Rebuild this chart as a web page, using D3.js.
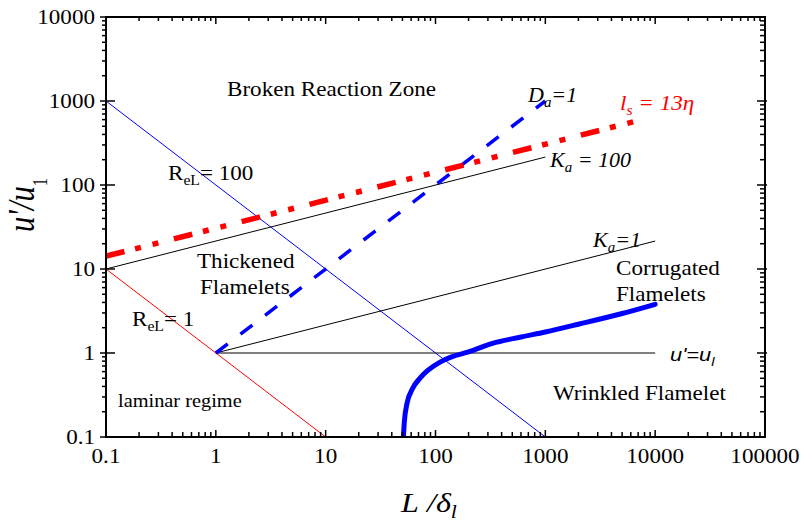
<!DOCTYPE html>
<html>
<head>
<meta charset="utf-8">
<script src="https://cdn.jsdelivr.net/npm/d3@7"></script>
<style>
  html, body { margin: 0; padding: 0; background: #fff; }
  svg { display: block; }
  .serif { font-family: "Liberation Serif", "Times New Roman", serif; }
</style>
</head>
<body>
<svg id="chart" width="804" height="522"></svg>
<script>
// ---- data -------------------------------------------------------------
const xDomain = [0.1, 100000];
const yDomain = [0.1, 10000];
const xTickLabels = ["0.1", "1", "10", "100", "1000", "10000", "100000"];
const yTickLabels = ["0.1", "1", "10", "100", "1000", "10000"];

// regime boundaries [L/δl, u'/ul]
const reL100 = [[0.1, 1000], [1000, 0.1]];
const reL1 = [[0.1, 10], [10, 0.1]];
const ka100 = [[0.1, 10], [1000, 215]];
const ka1 = [[1, 1], [10000, 21.5]];
const uEqual = [[1, 1], [10000, 1]];
const da1 = [[1, 1], [1000, 1000]];
const ls13eta = [[0.1, 14.2], [8000, 612]];
const flameCurve = [
  [51, 0.1], [52, 0.15], [55, 0.25], [62, 0.38], [72, 0.5], [85, 0.62],
  [110, 0.78], [140, 0.9], [200, 1.03], [330, 1.3], [600, 1.55],
  [1000, 1.78], [2000, 2.2], [5000, 2.95], [10000, 3.8]
];

// ---- layout -----------------------------------------------------------
const svg = d3.select("#chart");
const x = d3.scaleLog().domain(xDomain).range([106, 765]);
const y = d3.scaleLog().domain(yDomain).range([437, 17]);
const [x0, x1] = x.range();
const [y0, y1] = y.range();
const line = d3.line().x(d => x(d[0])).y(d => y(d[1]));

const plot = svg.append("g");
plot.append("defs").append("clipPath").attr("id", "clip")
  .append("rect").attr("x", x0).attr("y", y1).attr("width", x1 - x0).attr("height", y0 - y1);
const marks = plot.append("g").attr("clip-path", "url(#clip)");

function drawLine(data, color, width, dash, curve) {
  const p = marks.append("path")
    .attr("d", curve ? line.curve(curve)(data) : line.curve(d3.curveLinear)(data))
    .attr("fill", "none").attr("stroke", color).attr("stroke-width", width);
  if (dash) p.attr("stroke-dasharray", dash);
  return p;
}

drawLine(reL100, "#0000ff", 1);
drawLine(reL1, "#ff0000", 1);
drawLine(ka100, "#000", 1);
drawLine(ka1, "#000", 1);
drawLine(uEqual, "#000", 1);
drawLine(da1, "#0000ff", 3.5, "15,16");
drawLine(ls13eta, "#ff0000", 5.5, "19,11,6,12,6,16");
drawLine(flameCurve, "#0000ff", 5, null, d3.curveMonotoneX).attr("stroke-linecap", "round");

// ---- frame and ticks --------------------------------------------------
const axes = svg.append("g").attr("stroke", "#000");
axes.append("rect").attr("x", x0).attr("y", y1).attr("width", x1 - x0).attr("height", y0 - y1)
  .attr("fill", "none").attr("stroke-width", 2);

const isMajor = v => Math.abs(Math.log10(v) - Math.round(Math.log10(v))) < 1e-9;
x.ticks().forEach(v => {
  const px = x(v), maj = isMajor(v);
  if (v === xDomain[0] || v === xDomain[1]) return;
  axes.append("line").attr("x1", px).attr("x2", px).attr("y1", y0).attr("y2", y0 - (maj ? 7 : 5)).attr("stroke-width", 1.5);
  axes.append("line").attr("x1", px).attr("x2", px).attr("y1", y1).attr("y2", y1 + (maj ? 7 : 4)).attr("stroke-width", 1.5);
});
y.ticks().forEach(v => {
  const py = y(v), maj = isMajor(v);
  if (v === yDomain[0] || v === yDomain[1]) {
    axes.append("line").attr("x1", x0 - 6).attr("x2", x0).attr("y1", py).attr("y2", py).attr("stroke-width", 1.5);
    return;
  }
  axes.append("line").attr("x1", x0 - (maj ? 6 : 4)).attr("x2", x0 + (maj ? 9 : 0)).attr("y1", py).attr("y2", py).attr("stroke-width", 1.5);
  axes.append("line").attr("x1", x1 - (maj ? 8 : 5)).attr("x2", x1 + (maj ? 2 : 0)).attr("y1", py).attr("y2", py).attr("stroke-width", 1.5);
});

// ---- text helpers -----------------------------------------------------
const SX = 1.1; // glyphs are set slightly wide
function label(px, py, parts, opt = {}) {
  const size = opt.size || 21;
  const t = svg.append("text")
    .attr("class", "serif")
    .attr("transform", `translate(${px},${py}) scale(${opt.sx || SX},1)`)
    .attr("font-size", size)
    .attr("fill", opt.color || "#000")
    .attr("text-anchor", opt.anchor || "start");
  if (opt.family) t.style("font-family", opt.family);
  if (opt.italic) t.attr("font-style", "italic");
  parts.forEach(p => {
    const s = typeof p === "string" ? { t: p } : p;
    const ts = t.append("tspan").text(s.t);
    if (s.sub) ts.attr("font-size", size * 0.68).attr("dy", s.dy != null ? s.dy : 5);
    else if (s.dy) ts.attr("dy", s.dy);
  });
  return t;
}

// tick labels
xTickLabels.forEach(s => label(x(+s), 463, [s], { size: 21, anchor: "middle", sx: 1.1 }));
yTickLabels.forEach(s => label(95, y(+s) + 7, [s], { size: 21, anchor: "end", sx: 1.1 }));

// axis titles
label(401, 512, ["L", " /", "δ", { t: "l", sub: true, dy: 6 }], { size: 28, italic: true, sx: 1.15 });
svg.append("text")
  .attr("transform", "translate(34,232) rotate(-90) scale(1,1.45)")
  .attr("class", "serif").attr("font-size", 26).attr("font-style", "italic")
  .attr("textLength", 54).attr("lengthAdjust", "spacingAndGlyphs")
  .call(t => {
    t.append("tspan").text("u'/u");
    t.append("tspan").text("1").attr("font-style", "normal").attr("font-size", 14).attr("dy", 9);
  });

// regime labels
label(227, 96, ["Broken Reaction Zone"]);
label(168, 180, ["R", { t: "eL", sub: true }, { t: "= 100", dy: -5 }]);
label(197, 268, ["Thickened"]);
label(200, 294, ["Flamelets"]);
label(132, 326, ["R", { t: "eL", sub: true }, { t: "= 1", dy: -5 }]);
label(118, 407, ["laminar regime"], { size: 18.5 });
label(616, 275, ["Corrugated"]);
label(616, 301, ["Flamelets"]);
label(553, 400, ["Wrinkled Flamelet"]);

label(528, 102, ["D", { t: "a", sub: true }, { t: "=1", dy: -5 }], { size: 20, italic: true });
label(550, 167, ["K", { t: "a", sub: true }, { t: " = 100", dy: -5 }], { size: 20, italic: true });
label(593, 247, ["K", { t: "a", sub: true }, { t: "=1", dy: -5 }], { size: 20, italic: true });
label(620, 110, ["l", { t: "s", sub: true }, { t: " = 13", dy: -5 }, "η"], { size: 21, italic: true, color: "#ff0000" });
label(670, 361, ["u'=u", { t: "l", sub: true }], { size: 19, italic: true, family: "'Liberation Sans', Arial, sans-serif", sx: 1.15 });
</script>
</body>
</html>
